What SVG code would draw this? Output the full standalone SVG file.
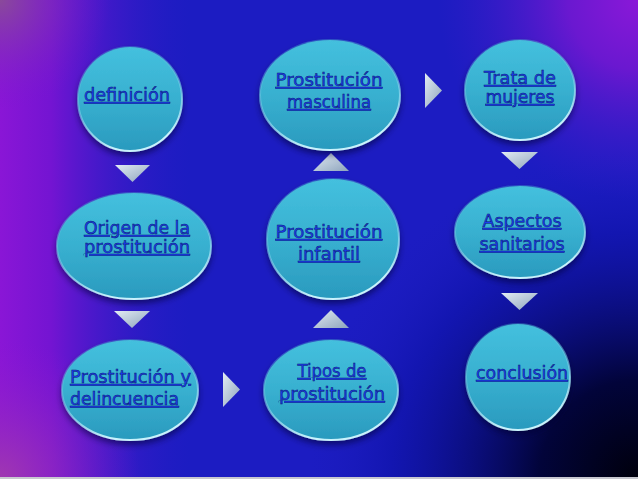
<svg xmlns="http://www.w3.org/2000/svg" width="638" height="479" viewBox="0 0 638 479">
<defs>
<linearGradient id="bgH" x1="0" y1="0" x2="1" y2="0">
<stop offset="0" stop-color="#8a16d6"/>
<stop offset="0.08" stop-color="#7414d2"/>
<stop offset="0.3" stop-color="#2a1cc6" stop-opacity="0"/>
<stop offset="1" stop-color="#2a1cc6" stop-opacity="0"/>
</linearGradient>
<radialGradient id="bgTR" cx="638" cy="0" r="200" gradientUnits="userSpaceOnUse">
<stop offset="0" stop-color="#8a18d8"/>
<stop offset="0.35" stop-color="#6a18d0"/>
<stop offset="1" stop-color="#3a1cc8" stop-opacity="0"/>
</radialGradient>
<radialGradient id="bgBR" cx="638" cy="479" r="330" gradientUnits="userSpaceOnUse">
<stop offset="0" stop-color="#00000c"/>
<stop offset="0.3" stop-color="#02043a"/>
<stop offset="0.75" stop-color="#0a10a0" stop-opacity="0.5"/>
<stop offset="1" stop-color="#1a1ab8" stop-opacity="0"/>
</radialGradient>
<radialGradient id="bgBL" cx="0" cy="479" r="140" gradientUnits="userSpaceOnUse">
<stop offset="0" stop-color="#a038b0"/>
<stop offset="1" stop-color="#8a18d0" stop-opacity="0"/>
</radialGradient>
<radialGradient id="bgTL" cx="0" cy="0" r="110" gradientUnits="userSpaceOnUse">
<stop offset="0" stop-color="#8a4a9a"/>
<stop offset="1" stop-color="#7a18d0" stop-opacity="0"/>
</radialGradient>
<linearGradient id="nodeFill" x1="0" y1="0" x2="0" y2="1">
<stop offset="0" stop-color="#44c0de"/>
<stop offset="0.5" stop-color="#38b0d0"/>
<stop offset="1" stop-color="#2a9abe"/>
</linearGradient>
<linearGradient id="rim" x1="0" y1="0" x2="0.3" y2="1">
<stop offset="0" stop-color="#3aa8c8" stop-opacity="0.3"/>
<stop offset="0.6" stop-color="#7cd4ea" stop-opacity="0.6"/>
<stop offset="1" stop-color="#c8f2fc"/>
</linearGradient>
<linearGradient id="triFill" x1="0" y1="0" x2="1" y2="1">
<stop offset="0" stop-color="#e2ecf4"/>
<stop offset="1" stop-color="#8ea4bc"/>
</linearGradient>
<filter id="shadow" x="-20%" y="-20%" width="140%" height="150%">
<feDropShadow dx="0" dy="4" stdDeviation="3" flood-color="#000030" flood-opacity="0.55"/>
</filter>
</defs>
<style>
.node ellipse { fill: url(#nodeFill); stroke: url(#rim); stroke-width: 2; filter: url(#shadow); }
.node text { font-family: "DejaVu Sans", "Liberation Sans", sans-serif; font-size: 17px; fill: #1c3cf2; text-decoration: underline; stroke: #0a1a70; stroke-width: 0.5; }
.tri { fill: url(#triFill); }
</style>
<g id="background">
<rect x="0" y="0" width="638" height="479" fill="#1c1cc2"/>
<rect x="0" y="0" width="638" height="479" fill="url(#bgBR)"/>
<rect x="0" y="0" width="638" height="479" fill="url(#bgTR)"/>
<rect x="0" y="0" width="638" height="479" fill="url(#bgH)"/>
<rect x="0" y="0" width="638" height="479" fill="url(#bgBL)"/>
<rect x="0" y="0" width="638" height="479" fill="url(#bgTL)"/>
<rect x="0" y="477" width="638" height="2" fill="#c8c8d0"/>
</g>
<g id="connectors">
<polygon class="tri" points="115,165 150,165 132.5,182"/>
<polygon class="tri" points="114,311 150,311 132,328"/>
<polygon class="tri" points="223,372 240,389.5 223,407"/>
<polygon class="tri" points="313,328 349,328 331,310"/>
<polygon class="tri" points="313,171 349,171 331,153"/>
<polygon class="tri" points="425,73 442,90.5 425,108"/>
<polygon class="tri" points="501,152 538,152 519.5,169"/>
<polygon class="tri" points="501,293 538,293 519.5,310"/>
</g>
<g id="n-definicion" class="node">
<ellipse cx="130" cy="99" rx="52" ry="52"/>
<text x="127" y="101" text-anchor="middle" textLength="86" lengthAdjust="spacingAndGlyphs">definición</text>
</g>
<g id="n-masculina" class="node">
<ellipse cx="330" cy="95" rx="70" ry="55"/>
<text x="329" y="86" text-anchor="middle" textLength="107" lengthAdjust="spacingAndGlyphs">Prostitución</text>
<text x="329" y="108" text-anchor="middle" textLength="84" lengthAdjust="spacingAndGlyphs">masculina</text>
</g>
<g id="n-trata" class="node">
<ellipse cx="520" cy="90" rx="55" ry="50"/>
<text x="520" y="84" text-anchor="middle" textLength="72" lengthAdjust="spacingAndGlyphs">Trata de</text>
<text x="520" y="103" text-anchor="middle" textLength="69" lengthAdjust="spacingAndGlyphs">mujeres</text>
</g>
<g id="n-origen" class="node">
<ellipse cx="134" cy="246" rx="77" ry="53"/>
<text x="137" y="234" text-anchor="middle" textLength="106" lengthAdjust="spacingAndGlyphs">Origen de la</text>
<text x="137" y="253" text-anchor="middle" textLength="106" lengthAdjust="spacingAndGlyphs">prostitución</text>
</g>
<g id="n-infantil" class="node">
<ellipse cx="333" cy="239" rx="66" ry="60"/>
<text x="329" y="238" text-anchor="middle" textLength="107" lengthAdjust="spacingAndGlyphs">Prostitución</text>
<text x="329" y="260" text-anchor="middle" textLength="62" lengthAdjust="spacingAndGlyphs">infantil</text>
</g>
<g id="n-aspectos" class="node">
<ellipse cx="520" cy="232" rx="65" ry="46"/>
<text x="522" y="227" text-anchor="middle" textLength="79" lengthAdjust="spacingAndGlyphs">Aspectos</text>
<text x="522" y="250" text-anchor="middle" textLength="85" lengthAdjust="spacingAndGlyphs">sanitarios</text>
</g>
<g id="n-delincuencia" class="node">
<ellipse cx="130" cy="390" rx="68" ry="50"/>
<text x="70" y="383" textLength="121" lengthAdjust="spacingAndGlyphs">Prostitución y</text>
<text x="70" y="405" textLength="109" lengthAdjust="spacingAndGlyphs">delincuencia</text>
</g>
<g id="n-tipos" class="node">
<ellipse cx="331" cy="390" rx="67" ry="50"/>
<text x="332" y="377" text-anchor="middle" textLength="69" lengthAdjust="spacingAndGlyphs">Tipos de</text>
<text x="332" y="400" text-anchor="middle" textLength="106" lengthAdjust="spacingAndGlyphs">prostitución</text>
</g>
<g id="n-conclusion" class="node">
<ellipse cx="518" cy="377" rx="52" ry="53"/>
<text x="522" y="379" text-anchor="middle" textLength="92" lengthAdjust="spacingAndGlyphs">conclusión</text>
</g>
</svg>
